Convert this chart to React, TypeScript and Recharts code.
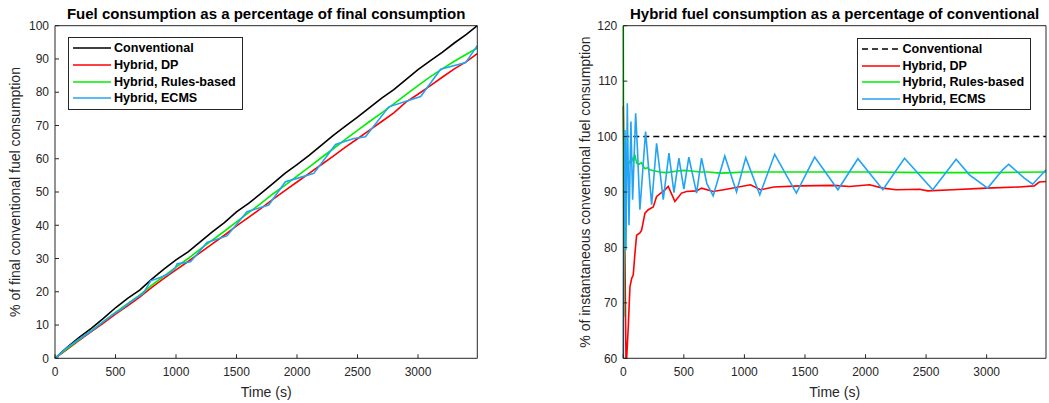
import { LineChart, Line, XAxis, YAxis, Legend, Label } from 'recharts'

// ---- left plot: cumulative fuel, % of final conventional consumption ----
const cumConvTime = [0, 100, 200, 300, 400, 500, 600, 700, 800, 900, 1000, 1100, 1200, 1300, 1400, 1500, 1600, 1700, 1800, 1900, 2000, 2100, 2200, 2300, 2400, 2500, 2600, 2700, 2800, 2900, 3000, 3100, 3200, 3300, 3400, 3490]
const cumConv = [0, 3.3, 6.3, 9.0, 12.0, 15.2, 18.0, 20.5, 23.8, 26.8, 29.6, 32.0, 35.0, 38.0, 40.8, 44.0, 46.6, 49.5, 52.5, 55.6, 58.2, 61.0, 64.0, 67.0, 69.8, 72.5, 75.4, 78.2, 80.8, 83.8, 86.8, 89.4, 92.0, 94.8, 97.4, 100]
const cumDP = [0, 2.7, 5.4, 8.0, 10.6, 13.3, 15.8, 18.4, 21.3, 24.0, 26.6, 29.1, 31.8, 34.4, 37.0, 39.8, 42.4, 45.0, 47.8, 50.4, 53.0, 55.6, 58.2, 60.8, 63.5, 66.0, 68.6, 71.2, 73.8, 77.0, 79.4, 81.9, 84.5, 87.0, 89.2, 91.6]
const cumRules = [0, 2.9, 5.6, 8.3, 11.0, 13.8, 16.4, 19.0, 22.0, 24.7, 27.4, 30.0, 32.8, 35.5, 38.2, 41.0, 43.8, 46.5, 49.4, 52.0, 54.8, 57.5, 60.3, 63.0, 65.8, 68.5, 71.2, 73.8, 76.5, 79.3, 82.0, 84.6, 87.0, 89.3, 91.4, 93.3]
const cumEcmsTime = [0, 100, 200, 300, 400, 480, 560, 620, 680, 730, 790, 870, 940, 990, 1010, 1120, 1256, 1421, 1587, 1766, 1904, 2001, 2139, 2318, 2470, 2566, 2759, 3022, 3187, 3394, 3490]
const cumEcms = [0, 3.2, 5.8, 8.2, 11.0, 13.2, 15.0, 16.8, 18.3, 19.5, 23.3, 24.3, 25.4, 27.0, 28.4, 29.0, 34.8, 36.8, 44.1, 46.1, 53.1, 54.1, 55.6, 64.3, 66.1, 66.6, 75.6, 78.7, 86.9, 88.9, 94.0]

// ---- right plot: instantaneous hybrid fuel, % of conventional ----
const instConvTime = [0, 3490]
const instConv = [100, 100]
const instDPTime = [0, 6, 22, 28, 41, 55, 69, 82, 96, 110, 137, 151, 179, 206, 247, 275, 344, 371, 426, 481, 522, 605, 646, 742, 852, 1050, 1132, 1242, 1462, 1737, 1868, 2033, 2143, 2253, 2445, 2514, 2720, 2995, 3270, 3393, 3434, 3490]
const instDP = [105.5, 95, 60, 60, 65.7, 72.9, 74.4, 75.0, 78.9, 82.2, 82.6, 83.1, 86.2, 86.8, 87.3, 89.2, 90.4, 91.0, 88.3, 89.8, 90.1, 90.2, 90.7, 90.1, 90.5, 91.3, 90.4, 90.9, 91.1, 91.2, 91.0, 91.3, 90.7, 90.4, 90.5, 90.2, 90.4, 90.7, 90.9, 91.1, 91.8, 91.9]
const instRulesTime = [0, 5, 12, 20, 30, 40, 55, 70, 82, 95, 110, 130, 150, 165, 180, 200, 220, 260, 300, 358, 450, 500, 560, 632, 700, 800, 907, 1000, 1500, 2000, 2500, 3000, 3490]
const instRules = [120, 67.5, 100, 96, 93, 95, 95.5, 96.2, 95.6, 96.8, 95.2, 95.0, 95.3, 94.6, 94.2, 94.4, 94.0, 93.8, 93.6, 93.5, 93.8, 93.9, 93.8, 93.6, 93.6, 93.4, 93.5, 93.6, 93.6, 93.6, 93.5, 93.5, 93.6]
const instEcmsTime = [0, 4, 14, 22, 33, 47, 63, 77, 102, 116, 137, 184, 234, 275, 330, 377, 418, 459, 500, 541, 605, 646, 690, 742, 838, 935, 1011, 1127, 1250, 1429, 1580, 1772, 1937, 2143, 2322, 2555, 2748, 2858, 3008, 3132, 3182, 3311, 3380, 3490]
const instEcms = [60, 80, 101.2, 79.5, 106, 84, 102.7, 88.6, 104.2, 98.2, 86.8, 100.9, 87.7, 98.8, 88.6, 97.0, 89.9, 96.1, 90.5, 96.3, 89.8, 96.1, 91.5, 89.3, 96.5, 90.0, 96.2, 89.5, 96.8, 89.8, 96.3, 90.4, 96.0, 90.4, 96.1, 90.4, 95.9, 93.1, 90.7, 94.0, 95.0, 92.5, 91.4, 94.0]

const xTicks = [0, 500, 1000, 1500, 2000, 2500, 3000]
const cumTicks = [0, 10, 20, 30, 40, 50, 60, 70, 80, 90, 100]
const instTicks = [60, 70, 80, 90, 100, 110, 120]

const T_END = 3490
const FONT = '"Liberation Sans", Arial, Helvetica, sans-serif'
const AXIS = '#262626'

const zip = (t: number[], v: number[]) => t.map((x, i) => ({ t: x, v: v[i] }))

interface Series {
  name: string
  color: string
  dashed?: boolean
  data: { t: number; v: number }[]
}

const leftSeries: Series[] = [
  { name: 'Conventional', color: '#000000', data: zip(cumConvTime, cumConv) },
  { name: 'Hybrid, DP', color: '#ff0000', data: zip(cumConvTime, cumDP) },
  { name: 'Hybrid, Rules-based', color: '#00ee00', data: zip(cumConvTime, cumRules) },
  { name: 'Hybrid, ECMS', color: '#22a3f5', data: zip(cumEcmsTime, cumEcms) },
]

const rightSeries: Series[] = [
  { name: 'Conventional', color: '#000000', dashed: true, data: zip(instConvTime, instConv) },
  { name: 'Hybrid, DP', color: '#ff0000', data: zip(instDPTime, instDP) },
  { name: 'Hybrid, Rules-based', color: '#00ee00', data: zip(instRulesTime, instRules) },
  { name: 'Hybrid, ECMS', color: '#22a3f5', data: zip(instEcmsTime, instEcms) },
]

function LegendBox({ items }: { items: Series[] }) {
  return (
    <div style={{
      border: `1px solid ${AXIS}`, background: '#fff', padding: '2px 6px 2px 3px',
      fontFamily: FONT, fontSize: 12.6, fontWeight: 700, color: '#000',
    }}>
      {items.map(s => (
        <div key={s.name} style={{ display: 'flex', alignItems: 'center', height: 16.7, whiteSpace: 'nowrap' }}>
          <svg width={40} height={10} style={{ marginRight: 2 }}>
            <line x1={1} y1={5} x2={39} y2={5} stroke={s.color} strokeWidth={1.6}
              strokeDasharray={s.dashed ? '6 4' : undefined} />
          </svg>
          {s.name}
        </div>
      ))}
    </div>
  )
}

const tickStyle = { fontSize: 12, fill: AXIS, fontFamily: FONT }
const hiddenTick = () => <g />

interface PanelProps {
  title: string
  yLabel: string
  series: Series[]
  yDomain: [number, number]
  yTicks: number[]
  left: number
  width: number
  yAxisWidth: number
  rightMargin: number
  yLabelOffset: number
  legendPos: { left: number; top: number }
}

function Panel(p: PanelProps) {
  const plotLeft = p.yAxisWidth
  const plotRight = p.width - p.rightMargin - 1
  return (
    <div style={{ position: 'absolute', left: p.left, top: 0, width: p.width, height: 403 }}>
      <div style={{
        position: 'absolute', left: plotLeft - 30, width: plotRight - plotLeft + 60, top: 5,
        textAlign: 'center', fontFamily: FONT, fontWeight: 700, fontSize: 15, lineHeight: '17px', color: '#000',
        whiteSpace: 'nowrap',
      }}>
        {p.title}
      </div>
      <LineChart width={p.width} height={403} margin={{ top: 24.7, right: p.rightMargin, bottom: 0, left: 0 }}>
        <XAxis xAxisId="b" dataKey="t" type="number" domain={[0, T_END]} ticks={xTicks}
          allowDuplicatedCategory={false} height={44.7}
          stroke={AXIS} tickSize={-4} tickMargin={13} tick={tickStyle}>
          <Label value="Time (s)" position="insideBottom" offset={6}
            style={{ fontSize: 14, fill: AXIS, fontFamily: FONT }} />
        </XAxis>
        <XAxis xAxisId="t" orientation="top" dataKey="t" type="number" domain={[0, T_END]} ticks={xTicks}
          allowDuplicatedCategory={false} height={1} stroke={AXIS} tickSize={-4} tick={hiddenTick} />
        <YAxis yAxisId="l" type="number" domain={p.yDomain} ticks={p.yTicks} width={p.yAxisWidth}
          stroke={AXIS} tickSize={-4} tickMargin={10} tick={tickStyle}>
          <Label value={p.yLabel} angle={-90} position="insideLeft" offset={p.yLabelOffset}
            style={{ fontSize: 14, fill: AXIS, fontFamily: FONT, textAnchor: 'middle' }} />
        </YAxis>
        <YAxis yAxisId="r" orientation="right" type="number" domain={p.yDomain} ticks={p.yTicks} width={1}
          stroke={AXIS} tickSize={-4} tick={hiddenTick} />
        {p.series.map(s => (
          <Line key={s.name} xAxisId="b" yAxisId="l" data={s.data} dataKey="v" name={s.name}
            type="linear" stroke={s.color} strokeWidth={1.6} dot={false} activeDot={false}
            strokeDasharray={s.dashed ? '6 4' : undefined} isAnimationActive={false} />
        ))}
        <Legend layout="vertical" align="center" verticalAlign="middle"
          wrapperStyle={{ left: p.legendPos.left, top: p.legendPos.top, width: 'auto', height: 'auto' }}
          content={() => <LegendBox items={p.series} />} />
      </LineChart>
    </div>
  )
}

export default function App() {
  return (
    <div style={{ position: 'absolute', left: 0, top: 0, width: 1049, height: 403, background: '#fff' }}>
      <Panel
        title="Fuel consumption as a percentage of final consumption"
        yLabel="% of final conventional fuel consumption"
        series={leftSeries} yDomain={[0, 100]} yTicks={cumTicks}
        left={0} width={490} yAxisWidth={55} rightMargin={11.7} yLabelOffset={15}
        legendPos={{ left: 68, top: 37 }}
      />
      <Panel
        title="Hybrid fuel consumption as a percentage of conventional"
        yLabel="% of instantaneous conventional fuel consumption"
        series={rightSeries} yDomain={[60, 120]} yTicks={instTicks}
        left={560} width={489} yAxisWidth={63.3} rightMargin={2} yLabelOffset={25}
        legendPos={{ left: 296.5, top: 37.5 }}
      />
    </div>
  )
}
